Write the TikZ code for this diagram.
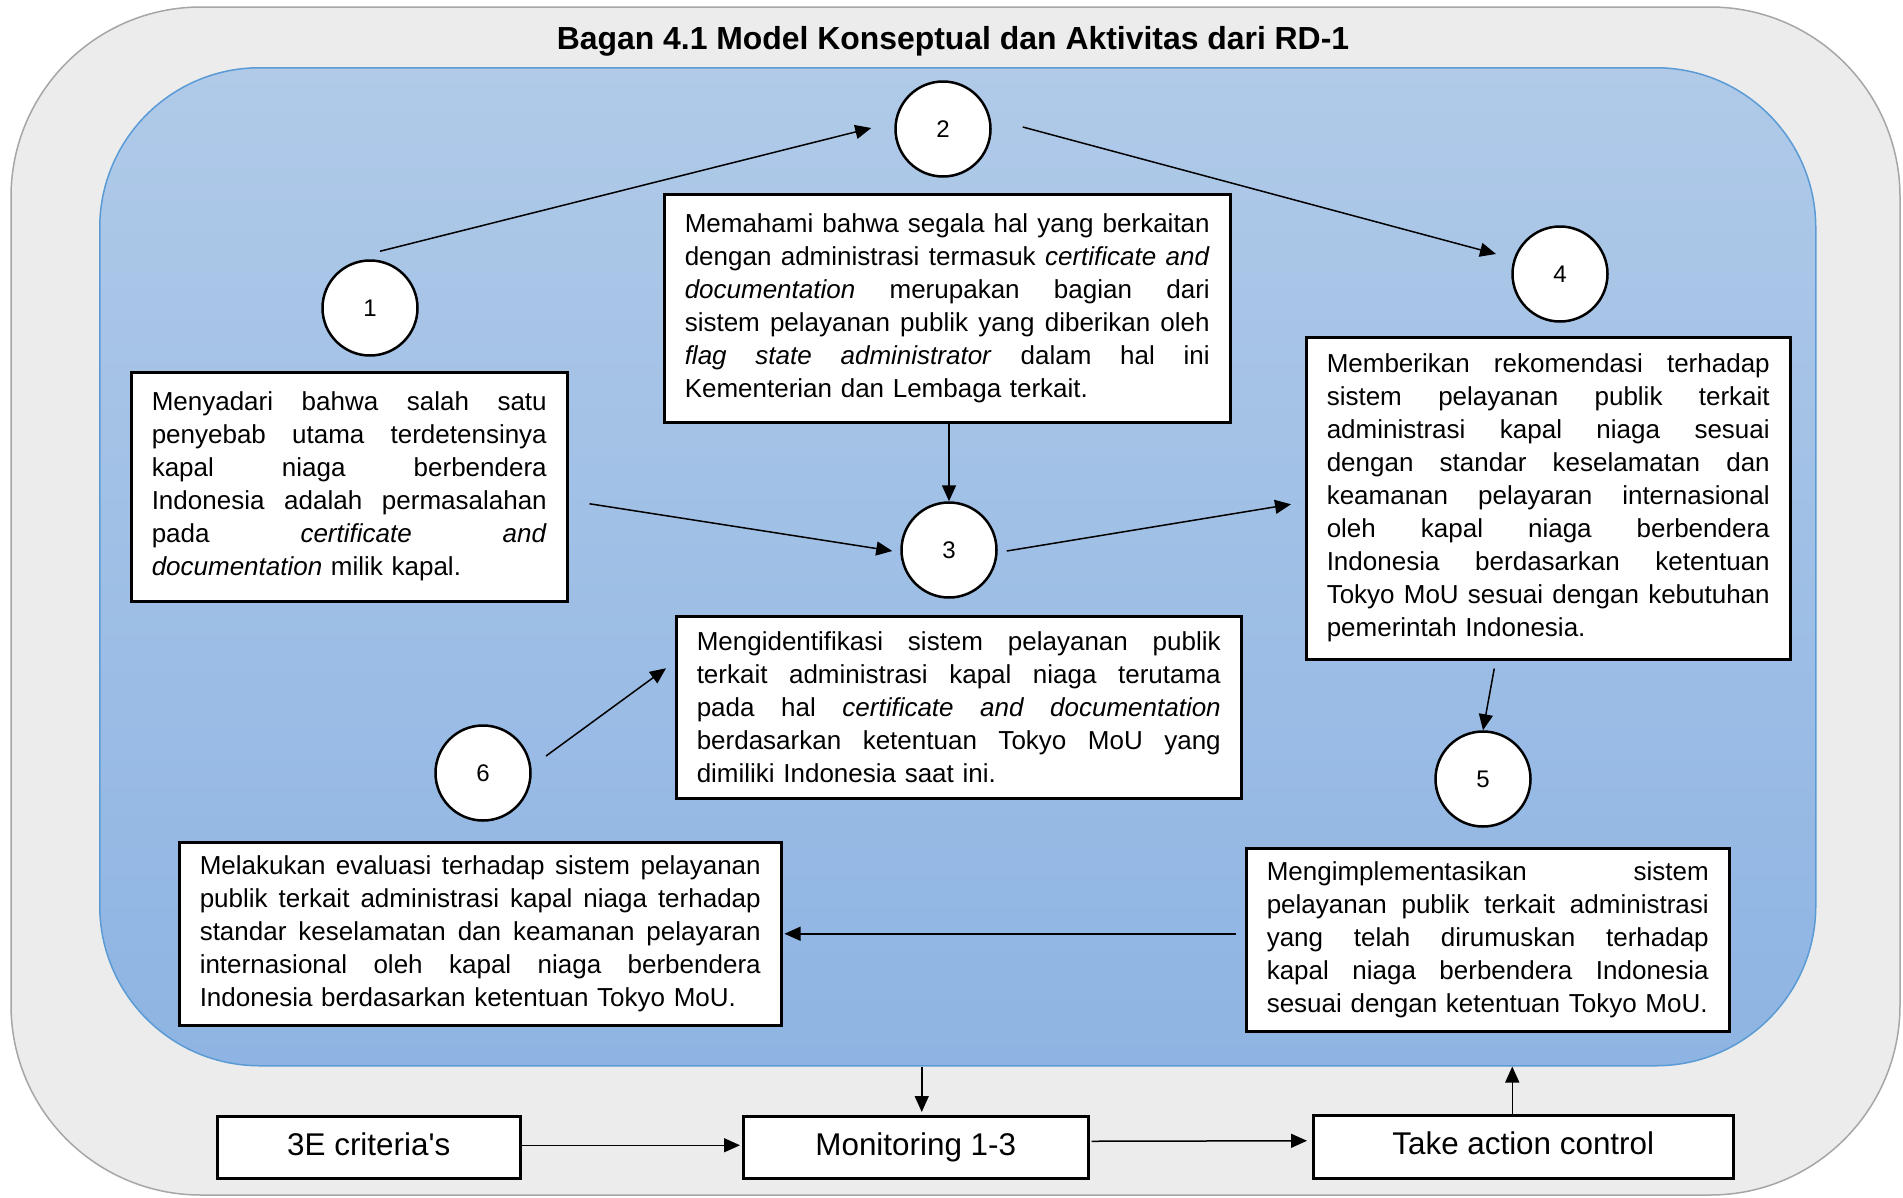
\documentclass[tikz,border=0pt]{standalone}
\usepackage{fontspec}
\setmainfont{Liberation Sans}
\usetikzlibrary{arrows.meta,calc}
\definecolor{outerfill}{HTML}{ECECEC}
\definecolor{outerline}{HTML}{A6A6A6}
\definecolor{bluetop}{HTML}{B0CAE8}
\definecolor{bluebot}{HTML}{8EB4E3}
\definecolor{blueline}{HTML}{5B9BD5}
\newcommand\tw{400pt}
\newcommand\JL[1]{\leavevmode\hbox to \tw{\spaceskip=\fontdimen2\font plus 1fil minus \fontdimen4\font\relax #1}}
\begin{document}
\begin{tikzpicture}[x=1pt,y=-1pt,
  txtbox/.style={draw=black, line width=2.5pt, fill=white, inner xsep=20.5pt, inner ysep=0pt, align=left, anchor=north west, font=\fontsize{26}{33}\selectfont},
  num/.style={circle, draw=black, line width=2.5pt, fill=white, minimum size=95pt, inner sep=0pt, font=\fontsize{24}{28}\selectfont},
  bottombox/.style={draw=black, line width=2.5pt, fill=white, inner sep=0pt, anchor=north west, text height=23pt, text depth=7pt, font=\fontsize{31.4}{36}\selectfont},
  arr/.style={line width=1.5pt, -{Triangle[length=16pt,width=14pt]}}
]
\useasboundingbox (0,0) rectangle (1903,1197);
\draw[fill=outerfill, draw=outerline, line width=1.5pt, rounded corners=190pt] (11,7) rectangle (1900,1195);
\node[anchor=north west, minimum width=1716pt, minimum height=998pt, inner sep=0pt, rounded corners=160pt, top color=bluetop, bottom color=bluebot, draw=blueline, line width=1.5pt] (panel) at (99,67) {};
\node[font=\bfseries\fontsize{31.9}{36}\selectfont] (title) at (953,41) {Bagan 4.1 Model Konseptual dan Aktivitas dari RD-1};

\node[num] (c1) at (370,308) {1};
\node[num] (c2) at (943,129) {2};
\node[num] (c3) at (949,550) {3};
\node[num] (c4) at (1560,274) {4};
\node[num] (c5) at (1483,779) {5};
\node[num] (c6) at (483,773) {6};

\node[txtbox, text width=395pt, minimum height=229pt] (b1) at (130,371) {%
\renewcommand\tw{395pt}%
\JL{Menyadari bahwa salah satu}\\
\JL{penyebab utama terdetensinya}\\
\JL{kapal niaga berbendera}\\
\JL{Indonesia adalah permasalahan}\\
\JL{pada \textit{certificate} \textit{and}}\\
\textit{documentation} milik kapal.};

\node[txtbox, text width=525pt, minimum height=228pt] (b2) at (663,193) {%
\renewcommand\tw{525pt}%
\JL{Memahami bahwa segala hal yang berkaitan}\\
\JL{dengan administrasi termasuk \textit{certificate and}}\\
\JL{\textit{documentation} merupakan bagian dari}\\
\JL{sistem pelayanan publik yang diberikan oleh}\\
\JL{\textit{flag state administrator} dalam hal ini}\\
Kementerian dan Lembaga terkait.};

\node[txtbox, text width=524pt, minimum height=182pt] (b3) at (675,615) {%
\renewcommand\tw{524pt}%
\JL{Mengidentifikasi sistem pelayanan publik}\\
\JL{terkait administrasi kapal niaga terutama}\\
\JL{pada hal \textit{certificate and documentation}}\\
\JL{berdasarkan ketentuan Tokyo MoU yang}\\
dimiliki Indonesia saat ini.};

\node[txtbox, text width=443pt, minimum height=322pt] (b4) at (1305,336) {%
\renewcommand\tw{443pt}%
\JL{Memberikan rekomendasi terhadap}\\
\JL{sistem pelayanan publik terkait}\\
\JL{administrasi kapal niaga sesuai}\\
\JL{dengan standar keselamatan dan}\\
\JL{keamanan pelayaran internasional}\\
\JL{oleh kapal niaga berbendera}\\
\JL{Indonesia berdasarkan ketentuan}\\
\JL{Tokyo MoU sesuai dengan kebutuhan}\\
pemerintah Indonesia.};

\node[txtbox, text width=442pt, minimum height=183pt] (b5) at (1245,847) {%
\renewcommand\tw{442pt}%
\JL{Mengimplementasikan sistem}\\
\JL{pelayanan publik terkait administrasi}\\
\JL{yang telah dirumuskan terhadap}\\
\JL{kapal niaga berbendera Indonesia}\\
sesuai dengan ketentuan Tokyo MoU.};

\node[txtbox, text width=561pt, minimum height=183pt] (b6) at (178,841) {%
\renewcommand\tw{561pt}%
\JL{Melakukan evaluasi terhadap sistem pelayanan}\\
\JL{publik terkait administrasi kapal niaga terhadap}\\
\JL{standar keselamatan dan keamanan pelayaran}\\
\JL{internasional oleh kapal niaga berbendera}\\
Indonesia berdasarkan ketentuan Tokyo MoU.};

\node[bottombox, minimum width=303pt, minimum height=62pt] (e3) at (216,1115) {3E criteria\textquotesingle s};
\node[bottombox, minimum width=345pt, minimum height=62pt] (mon) at (742,1115) {Monitoring 1-3};
\node[bottombox, minimum width=420pt, minimum height=63pt] (ta) at (1312,1114) {Take action control};

\draw[arr] ($(c1.north)+(10,-8)$) -- ($(c2.west)+(-23,-1)$);
\draw[arr] ($(c2.east)+(31,-2)$) -- ($(c4)+(-64,-20)$);
\draw[arr] (b2.south -| c3.north) -- (c3.north);
\draw[arr] ($(b1.east)+(21,17)$) -- ($(c3.west)+(-8,1)$);
\draw[arr] ($(c3.east)+(9,1)$) -- ($(b4.west)+(-14,6)$);
\draw[arr] ($(b4.south)+(-54,8)$) -- (c5.north);
\draw[arr] ($(c6)+(63,-17)$) -- ($(b3.west)+(-9,-39)$);
\draw[arr] ($(b5.west)+(-9,-6)$) -- ($(b6.east)+(2,0)$);
\coordinate (mtop) at ($(mon.north)+(6,-3)$);
\draw[arr] (mtop |- panel.south) -- (mtop);
\coordinate (tatop) at ($(ta.north)+(-11,0)$);
\draw[arr] (tatop) -- (tatop |- panel.south);
\draw[arr] ($(e3.east)+(0,-2)$) -- ($(mon.west)+(-2,-2)$);
\draw[arr] ($(mon.east)+(2,-6)$) -- ($(ta.west)+(-5,-6)$);
\end{tikzpicture}
\end{document}
